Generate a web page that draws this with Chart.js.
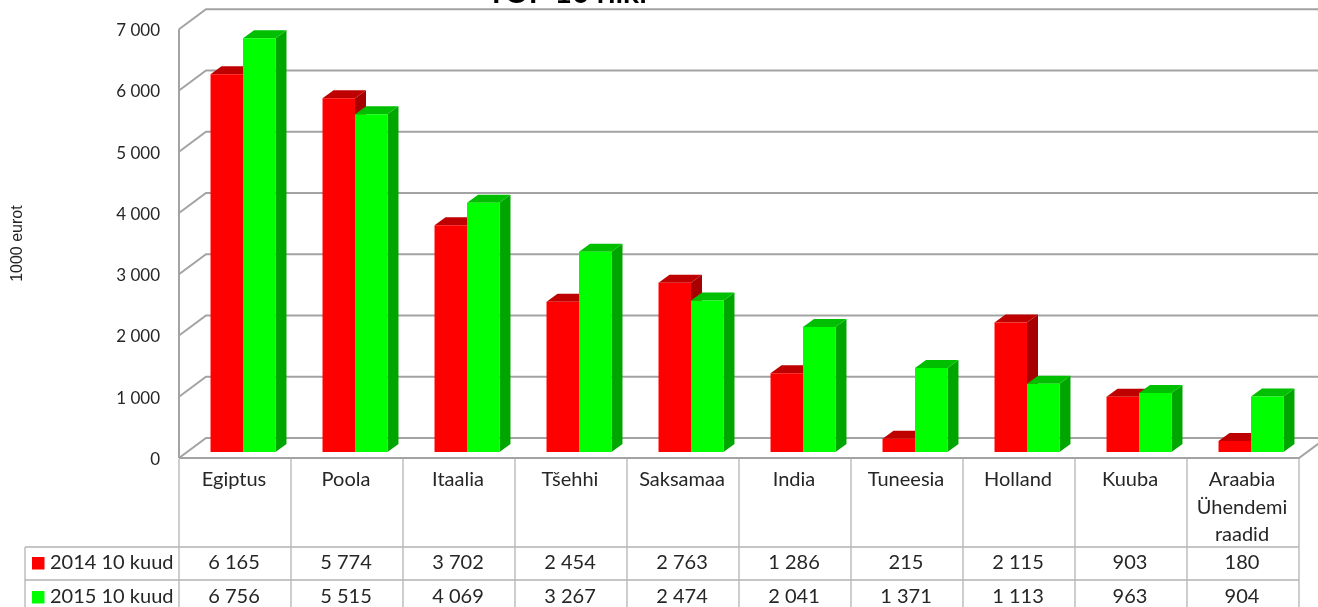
<!DOCTYPE html>
<html>
<head>
<meta charset="utf-8">
<style>
html,body{margin:0;padding:0;background:#fff;overflow:hidden}
#wrap{width:1318px;height:607px;position:relative}
</style>
<script src="https://cdn.jsdelivr.net/npm/chart.js@4"></script>
</head>
<body>
<div id="wrap"><canvas id="c" width="1318" height="607"></canvas></div>
<script>
const categories = ["Egiptus","Poola","Itaalia","Tšehhi","Saksamaa","India","Tuneesia","Holland","Kuuba",["Araabia","Ühendemi","raadid"]];
const seriesNames = ["2014 10 kuud","2015 10 kuud"];
const values2014 = [6165,5774,3702,2454,2763,1286,215,2115,903,180];
const values2015 = [6756,5515,4069,3267,2474,2041,1371,1113,963,904];
const titleText = "TOP 10 riiki";
const axisTitle = "1000 eurot";

const FONT = 'Lato, "Open Sans", sans-serif';
const TEXT = '#262626';
const WALL = '#a3a3a3';
const TABLE = '#b4b4b4';
const faces = [
  {front:'#ff0000', top:'#bf0000', side:'#a60000'},
  {front:'#00ff00', top:'#00bf00', side:'#00a600'}
];
const fmt = v => String(v).replace(/\B(?=(\d{3})+$)/g,' ');

const depth = {wallX:27, wallY:20, barX:11, barY:8, shiftX:8, shiftY:6};

const backdrop = {
  id:'backdrop',
  beforeDatasetsDraw(chart){
    const {ctx, scales:{y}, chartArea:a} = chart;
    ctx.save();
    ctx.strokeStyle = WALL; ctx.lineWidth = 2;
    ctx.beginPath();
    y.ticks.forEach(t=>{
      const py = y.getPixelForValue(t.value);
      ctx.moveTo(a.left, py);
      ctx.lineTo(a.left+depth.wallX, py-depth.wallY);
      ctx.lineTo(chart.width, py-depth.wallY);
    });
    ctx.moveTo(a.left, a.top); ctx.lineTo(a.left, a.bottom);
    ctx.moveTo(a.left, a.bottom); ctx.lineTo(a.right, a.bottom);
    ctx.lineTo(a.right+depth.wallX, a.bottom-depth.wallY);
    ctx.stroke();
    ctx.restore();
    // red first, green over it: the green front hides the red side face
    [0,1].forEach(i=>{
      const meta = chart.getDatasetMeta(i);
      const f = faces[i];
      ctx.save();
      ctx.translate(depth.shiftX,-depth.shiftY);
      meta.data.forEach(b=>{
        const l=b.x-b.width/2, r=b.x+b.width/2, t=b.y, bt=b.base;
        ctx.fillStyle=f.side;
        ctx.beginPath();
        ctx.moveTo(r,t); ctx.lineTo(r+depth.barX,t-depth.barY);
        ctx.lineTo(r+depth.barX,bt-depth.barY); ctx.lineTo(r,bt);
        ctx.closePath(); ctx.fill();
        ctx.fillStyle=f.top;
        ctx.beginPath();
        ctx.moveTo(l,t); ctx.lineTo(l+depth.barX,t-depth.barY);
        ctx.lineTo(r+depth.barX,t-depth.barY); ctx.lineTo(r,t);
        ctx.closePath(); ctx.fill();
      });
      meta.controller.draw();
      ctx.restore();
    });
    return false;
  },
  afterDraw(chart){
    const {ctx, scales:{x}, chartArea:a} = chart;
    const row1=547, row2=580, tableLeft=25, bottom=chart.height;
    ctx.save();
    // title, cut by the top edge as in the picture
    ctx.fillStyle='#000'; ctx.font='bold 30px '+FONT;
    ctx.textAlign='center'; ctx.textBaseline='alphabetic';
    ctx.fillText(titleText,567,3);
    // table
    ctx.strokeStyle=TABLE; ctx.lineWidth=1.3;
    ctx.beginPath();
    ctx.moveTo(tableLeft,row1); ctx.lineTo(a.right,row1);
    ctx.moveTo(tableLeft,row2); ctx.lineTo(a.right,row2);
    ctx.moveTo(tableLeft,row1); ctx.lineTo(tableLeft,bottom);
    const step=(a.right-a.left)/categories.length;
    for(let i=0;i<=categories.length;i++){
      const px=a.left+i*step;
      ctx.moveTo(px,a.bottom+1); ctx.lineTo(px,bottom);
    }
    ctx.stroke();
    ctx.font='20px '+FONT; ctx.fillStyle=TEXT; ctx.textBaseline='middle'; ctx.textAlign='center';
    [values2014,values2015].forEach((vals,r)=>{
      const cy = r===0 ? 563 : 597;
      vals.forEach((v,i)=>ctx.fillText(fmt(v),x.getPixelForValue(i)-1,cy));
    });
    ctx.textAlign='left';
    seriesNames.forEach((n,r)=>{
      const cy = r===0 ? 563 : 597;
      ctx.fillStyle=faces[r].front;
      ctx.fillRect(32,cy-6,12.5,12.5);
      ctx.fillStyle=TEXT;
      ctx.fillText(n,50,cy);
    });
    ctx.restore();
  }
};

new Chart(document.getElementById('c'),{
  type:'bar',
  data:{
    labels:categories,
    datasets:[
      {label:seriesNames[0],data:values2014,backgroundColor:faces[0].front},
      {label:seriesNames[1],data:values2015,backgroundColor:faces[1].front}
    ]
  },
  options:{
    responsive:false,
    animation:false,
    layout:{padding:{top:29,right:19,bottom:0,left:0}},
    plugins:{legend:{display:false},title:{display:false},tooltip:{enabled:false}},
    datasets:{bar:{categoryPercentage:0.58,barPercentage:1}},
    scales:{
      x:{
        grid:{display:false,drawTicks:false},
        border:{display:false},
        ticks:{font:{family:FONT,size:20,lineHeight:1.375},color:TEXT,padding:8,labelOffset:-1,maxRotation:0,minRotation:0,autoSkip:false},
        afterFit(s){ s.height = 149; }
      },
      y:{
        min:0,max:7000,
        grid:{display:false,drawTicks:false},
        border:{display:false},
        ticks:{stepSize:1000,font:{family:FONT,size:17},color:TEXT,padding:19,labelOffset:1.5,callback:v=>fmt(v)},
        title:{display:true,text:axisTitle,font:{family:'"Liberation Sans", Arial, sans-serif',size:16},color:'#222',padding:{top:8,bottom:0}},
        afterFit(s){ s.width = 179; }
      }
    }
  },
  plugins:[backdrop]
});
</script>
</body>
</html>
